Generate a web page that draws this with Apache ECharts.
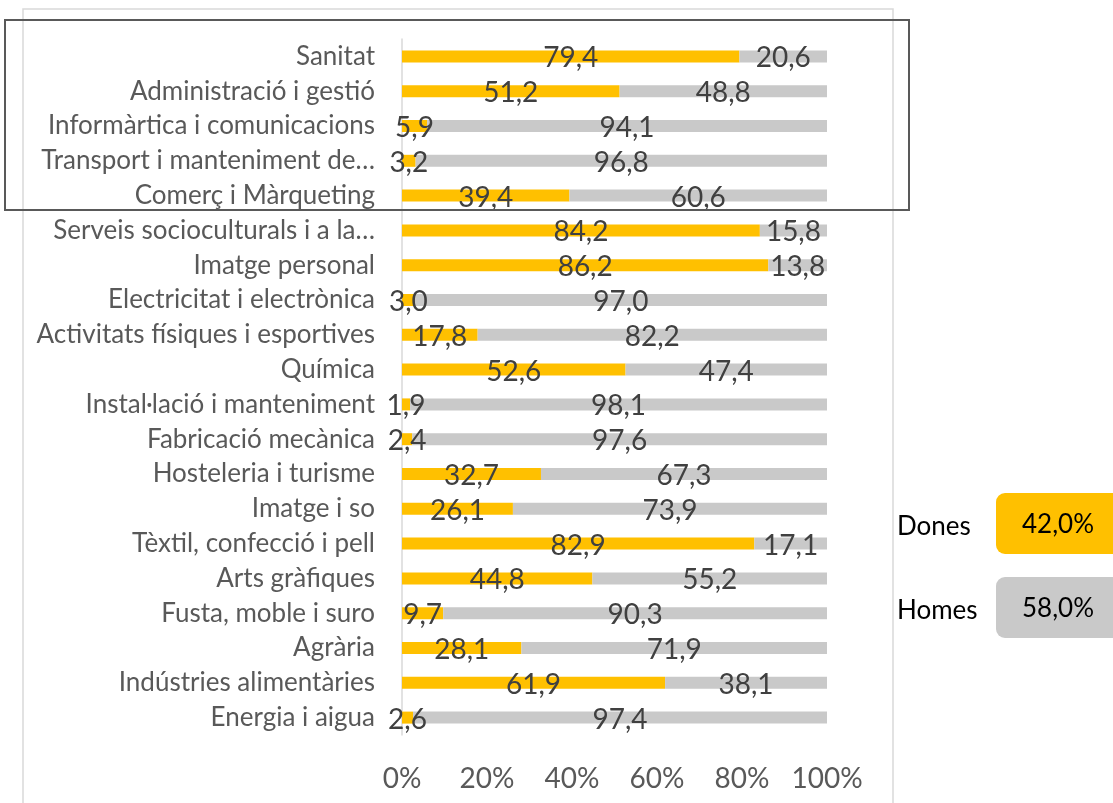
<!DOCTYPE html>
<html>
<head>
<meta charset="utf-8">
<script src="https://cdn.jsdelivr.net/npm/echarts@6/dist/echarts.min.js"></script>
<style>
  html, body { margin: 0; padding: 0; background: #fff; }
  #chart { width: 1113px; height: 803px; }
</style>
</head>
<body>
<div id="chart"></div>
<script>
// Families, top to bottom
const families = [
  'Sanitat',
  'Administració i gestió',
  'Informàrtica i comunicacions',
  'Transport i manteniment de…',
  'Comerç i Màrqueting',
  'Serveis socioculturals i a la…',
  'Imatge personal',
  'Electricitat i electrònica',
  'Activitats físiques i esportives',
  'Química',
  'Instal·lació i manteniment',
  'Fabricació mecànica',
  'Hosteleria i turisme',
  'Imatge i so',
  'Tèxtil, confecció i pell',
  'Arts gràfiques',
  'Fusta, moble i suro',
  'Agrària',
  'Indústries alimentàries',
  'Energia i aigua'
]
const dones = [79.4, 51.2, 5.9, 3.2, 39.4, 84.2, 86.2, 3.0, 17.8, 52.6, 1.9, 2.4, 32.7, 26.1, 82.9, 44.8, 9.7, 28.1, 61.9, 2.6]
const homes = [20.6, 48.8, 94.1, 96.8, 60.6, 15.8, 13.8, 97.0, 82.2, 47.4, 98.1, 97.6, 67.3, 73.9, 17.1, 55.2, 90.3, 71.9, 38.1, 97.4]
const totalLabels = ['Dones', 'Homes']
const totalValues = [42.0, 58.0]

const ORANGE = '#ffc000'
const GREY = '#c9c9c9'
const FONT = 'Lato'

const fmt = v => v.toFixed(1).replace('.', ',')

const chart = echarts.init(document.getElementById('chart'))

// summary boxes on the right
const boxColors = [ORANGE, GREY]
const boxes = []
totalLabels.forEach((name, i) => {
  const top = 493 + i * 84
  boxes.push({
    type: 'text', x: 897, y: top + 34,
    style: { text: name, font: '26px ' + FONT, fill: '#000', verticalAlign: 'middle' }
  })
  boxes.push({
    type: 'rect', shape: { x: 996, y: top, width: 130, height: 61, r: 9 },
    style: { fill: boxColors[i] }
  })
  boxes.push({
    type: 'text', x: 1058, y: top + 32,
    style: { text: fmt(totalValues[i]) + '%', font: '26px ' + FONT, fill: '#000',
             align: 'center', verticalAlign: 'middle' }
  })
})

const option = {
  animation: false,
  grid: { left: 402, right: 286, top: 39, bottom: 68, containLabel: false },
  xAxis: {
    type: 'value',
    min: 0, max: 100, interval: 20,
    axisLine: { show: false },
    axisTick: { show: false },
    splitLine: { show: false },
    axisLabel: {
      formatter: '{value}%', margin: 30,
      fontFamily: FONT, fontSize: 28, color: '#595959'
    }
  },
  yAxis: {
    type: 'category',
    inverse: true,
    data: families,
    axisLine: { show: true, lineStyle: { color: '#d9d9d9', width: 1.5 } },
    axisTick: { show: false },
    axisLabel: {
      margin: 27, fontFamily: FONT, fontSize: 26, color: '#595959'
    }
  },
  series: [
    {
      name: 'Dones', type: 'bar', stack: 'total', data: dones,
      barWidth: 12, itemStyle: { color: ORANGE },
      label: {
        show: true, position: 'inside', offset: [0, 2],
        formatter: p => fmt(p.value),
        fontFamily: FONT, fontSize: 28, color: '#404040'
      }
    },
    {
      name: 'Homes', type: 'bar', stack: 'total', data: homes,
      barWidth: 12, itemStyle: { color: GREY },
      label: {
        show: true, position: 'inside', offset: [0, 2],
        formatter: p => fmt(p.value),
        fontFamily: FONT, fontSize: 28, color: '#404040'
      }
    }
  ],
  graphic: [
    // chart area frame
    {
      type: 'rect', z: -1, silent: true,
      shape: { x: 23, y: 9, width: 870, height: 820 },
      style: { fill: 'none', stroke: '#d9d9d9', lineWidth: 1.5 }
    },
    // highlight box around the first five families
    {
      type: 'rect', z: 10, silent: true,
      shape: { x: 5, y: 20, width: 904, height: 190 },
      style: { fill: 'none', stroke: '#595959', lineWidth: 2 }
    },
    ...boxes
  ]
}

chart.setOption(option)
</script>
</body>
</html>
